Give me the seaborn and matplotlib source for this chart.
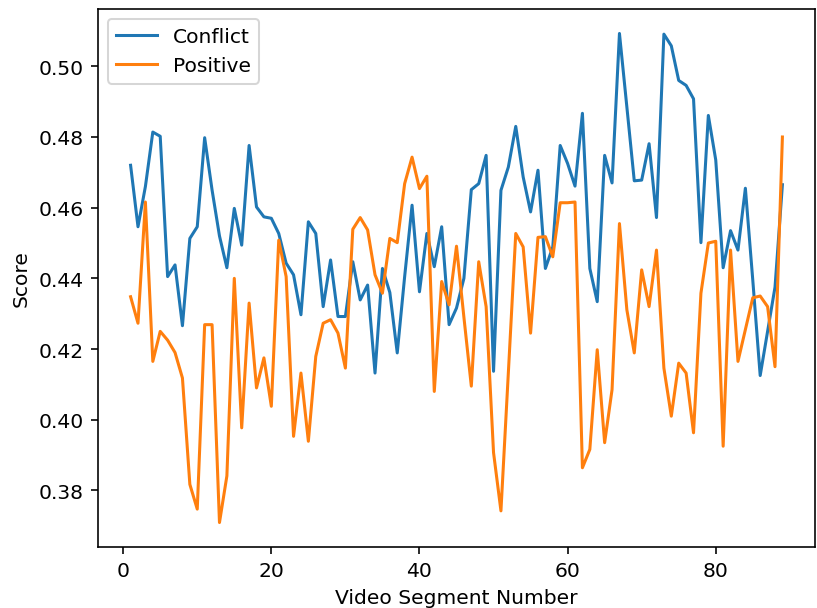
import matplotlib
matplotlib.use("Agg")
import matplotlib.pyplot as plt
import seaborn as sns
import pandas as pd

segments = list(range(1, 90))

conflict = [
    0.472, 0.4546, 0.466, 0.4814, 0.4802, 0.4405, 0.4438, 0.4266, 0.4513, 0.4546,
    0.4798, 0.465, 0.452, 0.443, 0.4598, 0.4494, 0.4776, 0.4602, 0.4574, 0.4570,
    0.4527, 0.4443, 0.4410, 0.4297, 0.4560, 0.4527, 0.4320, 0.4452, 0.4292, 0.4292,
    0.4447, 0.4339, 0.4381, 0.4132, 0.4428, 0.436, 0.4189, 0.4405, 0.4607, 0.4362,
    0.4527, 0.4433, 0.4546, 0.4269, 0.4316, 0.440, 0.4651, 0.4668, 0.4748, 0.4137,
    0.4649, 0.4715, 0.4830, 0.4687, 0.4588, 0.4706, 0.4428, 0.4489, 0.4776, 0.4725,
    0.4661, 0.4867, 0.4428, 0.4334, 0.4748, 0.4670, 0.5093, 0.4885, 0.4676, 0.4678,
    0.4781, 0.4572, 0.5091, 0.5058, 0.4960, 0.4946, 0.4908, 0.4501, 0.4861, 0.4735,
    0.443, 0.4535, 0.448, 0.4655, 0.4395, 0.4125, 0.425, 0.4375, 0.4665,
]

positive = [
    0.4348, 0.4273, 0.4616, 0.4165, 0.4250, 0.4225, 0.419, 0.4118, 0.3817, 0.3747,
    0.4269, 0.4269, 0.3709, 0.3841, 0.4400, 0.3977, 0.4330, 0.4090, 0.4175, 0.4038,
    0.4508, 0.4405, 0.3953, 0.4132, 0.3939, 0.4179, 0.4273, 0.4283, 0.4245, 0.4146,
    0.4539, 0.4572, 0.4537, 0.4410, 0.4358, 0.4513, 0.4501, 0.4668, 0.4743, 0.4654,
    0.4689, 0.4080, 0.4391, 0.4325, 0.4491, 0.429, 0.4095, 0.4447, 0.4320, 0.3907,
    0.3742, 0.4133, 0.4527, 0.4489, 0.4245, 0.4516, 0.4518, 0.4461, 0.4614, 0.4614,
    0.4616, 0.3864, 0.3916, 0.4198, 0.3935, 0.4085, 0.4555, 0.4311, 0.4189, 0.4424,
    0.4320, 0.4480, 0.4146, 0.4010, 0.4160, 0.4132, 0.3963, 0.4358, 0.4500, 0.4505,
    0.3925, 0.448, 0.4165, 0.4255, 0.4345, 0.435, 0.432, 0.415, 0.48,
]

df = pd.DataFrame({
    'Video Segment Number': segments * 2,
    'Score': conflict + positive,
    'Type': ['Conflict'] * len(segments) + ['Positive'] * len(segments),
})

DPI = 146
fig = plt.figure(figsize=(817 / DPI, 609 / DPI), dpi=DPI)
ax = fig.add_axes([98 / 817, 1 - 548 / 609, (815 - 98) / 817, (548 - 10) / 609])

sns.lineplot(data=df, x='Video Segment Number', y='Score', hue='Type',
             palette=['#1f77b4', '#ff7f0e'], ax=ax)

ax.legend(loc='upper left')

fig.savefig('out.png', dpi=DPI)
